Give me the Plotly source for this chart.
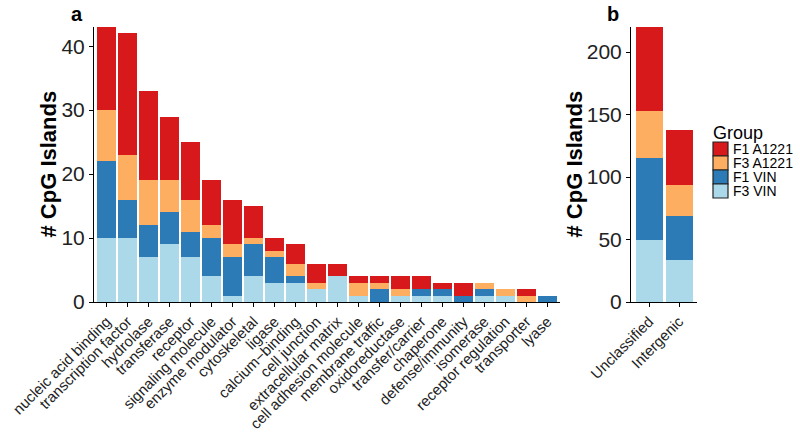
import plotly.graph_objects as go

categories_a = ["nucleic acid binding", "transcription factor", "hydrolase", "transferase",
                "receptor", "signaling molecule", "enzyme modulator", "cytoskeletal", "ligase",
                "calcium\u2212binding", "cell junction", "extracellular matrix",
                "cell adhesion molecule", "membrane traffic", "oxidoreductase", "transfer/carrier",
                "chaperone", "defense/immunity", "isomerase", "receptor regulation",
                "transporter", "lyase"]
f3_vin_a   = [10, 10, 7, 9, 7, 4, 1, 4, 3, 3, 2, 4, 1, 0, 1, 1, 1, 0, 1, 1, 0, 0]
f1_vin_a   = [12, 6, 5, 5, 4, 6, 6, 5, 4, 1, 0, 0, 0, 2, 0, 1, 1, 1, 1, 0, 0, 1]
f3_a1221_a = [8, 7, 7, 5, 5, 2, 2, 1, 1, 2, 1, 0, 2, 1, 1, 0, 0, 0, 1, 1, 1, 0]
f1_a1221_a = [13, 19, 14, 10, 9, 7, 7, 5, 2, 3, 3, 2, 1, 1, 2, 2, 1, 2, 0, 0, 1, 0]

categories_b = ["Unclassified", "Intergenic"]
f3_vin_b   = [50, 34]
f1_vin_b   = [65, 35]
f3_a1221_b = [38, 25]
f1_a1221_b = [67, 44]

groups = ["F3 VIN", "F1 VIN", "F3 A1221", "F1 A1221"]
legend_order = ["F1 A1221", "F3 A1221", "F1 VIN", "F3 VIN"]
colors = {"F1 A1221": "#D7191C", "F3 A1221": "#FDAE61", "F1 VIN": "#2C7BB6", "F3 VIN": "#ABD9E9"}

data_a = {"F3 VIN": f3_vin_a, "F1 VIN": f1_vin_a, "F3 A1221": f3_a1221_a, "F1 A1221": f1_a1221_a}
data_b = {"F3 VIN": f3_vin_b, "F1 VIN": f1_vin_b, "F3 A1221": f3_a1221_b, "F1 A1221": f1_a1221_b}

FONT = "Liberation Sans, Arial, Helvetica, sans-serif"
W, H = 800, 434
T, B = 27, 132
PH = H - T - B

def px_x(x):
    return x / W

def px_y(y):
    return (H - B - y) / PH

fig = go.Figure()
for g in groups:
    fig.add_trace(go.Bar(x=categories_a, y=data_a[g], name=g, marker_color=colors[g],
                         marker_line_width=0, xaxis="x", yaxis="y", showlegend=False))
for g in groups:
    fig.add_trace(go.Bar(x=categories_b, y=data_b[g], name=g, marker_color=colors[g],
                         marker_line_width=0, xaxis="x2", yaxis="y2", showlegend=False))

axis_common = dict(showline=True, linecolor="black", linewidth=1, ticks="outside",
                   ticklen=4, tickcolor="black", showgrid=False, zeroline=False,
                   automargin=False)

shapes = []
annotations = [
    dict(text="<b># CpG Islands</b>", x=px_x(48), y=0.5, xref="paper", yref="paper",
         showarrow=False, textangle=-90, font=dict(size=22), xanchor="center"),
    dict(text="<b># CpG Islands</b>", x=px_x(574), y=0.5, xref="paper", yref="paper",
         showarrow=False, textangle=-90, font=dict(size=22), xanchor="center"),
    dict(text="<b>a</b>", x=px_x(77), y=px_y(14), xref="paper", yref="paper",
         yanchor="middle", xanchor="center", showarrow=False, font=dict(size=20)),
    dict(text="<b>b</b>", x=px_x(613), y=px_y(14), xref="paper", yref="paper",
         yanchor="middle", xanchor="center", showarrow=False, font=dict(size=20)),
    dict(text="Group", x=px_x(711), y=px_y(133), xref="paper", yref="paper",
         xanchor="left", yanchor="middle", showarrow=False, font=dict(size=18)),
]
sq_top = 142
sq_h = 14
for i, g in enumerate(legend_order):
    y0 = sq_top + i * sq_h
    shapes.append(dict(type="rect", xref="paper", yref="paper",
                       x0=px_x(713), x1=px_x(728), y0=px_y(y0), y1=px_y(y0 + sq_h),
                       fillcolor=colors[g], line=dict(color="#222", width=1.2)))
    annotations.append(dict(text=g, x=px_x(731), y=px_y(y0 + sq_h / 2), xref="paper",
                            yref="paper", xanchor="left", yanchor="middle",
                            showarrow=False, font=dict(size=14)))

fig.update_layout(
    width=W, height=H,
    margin=dict(l=0, r=0, t=T, b=B, autoexpand=False),
    barmode="stack", bargap=0.1,
    plot_bgcolor="white", paper_bgcolor="white",
    font=dict(family=FONT, color="black"),
    showlegend=False,
    xaxis=dict(domain=[px_x(94), px_x(560)], range=[-0.6, 21.6], tickangle=-45,
               tickfont=dict(size=15, color="#222"), anchor="y", **axis_common),
    yaxis=dict(range=[0, 43], tickvals=[0, 10, 20, 30, 40],
               tickfont=dict(size=21, color="#222"), anchor="x", **axis_common),
    xaxis2=dict(domain=[px_x(631), px_x(697)], range=[-0.6, 1.6], tickangle=-45,
                tickfont=dict(size=15, color="#222"), anchor="y2", **axis_common),
    yaxis2=dict(range=[0, 220], tickvals=[0, 50, 100, 150, 200],
                tickfont=dict(size=21, color="#222"), anchor="x2", **axis_common),
    shapes=shapes,
    annotations=annotations,
)
fig.write_html("out.html", config={"displayModeBar": False},
               post_script="document.body.style.margin='0';document.body.style.overflow='hidden';")
